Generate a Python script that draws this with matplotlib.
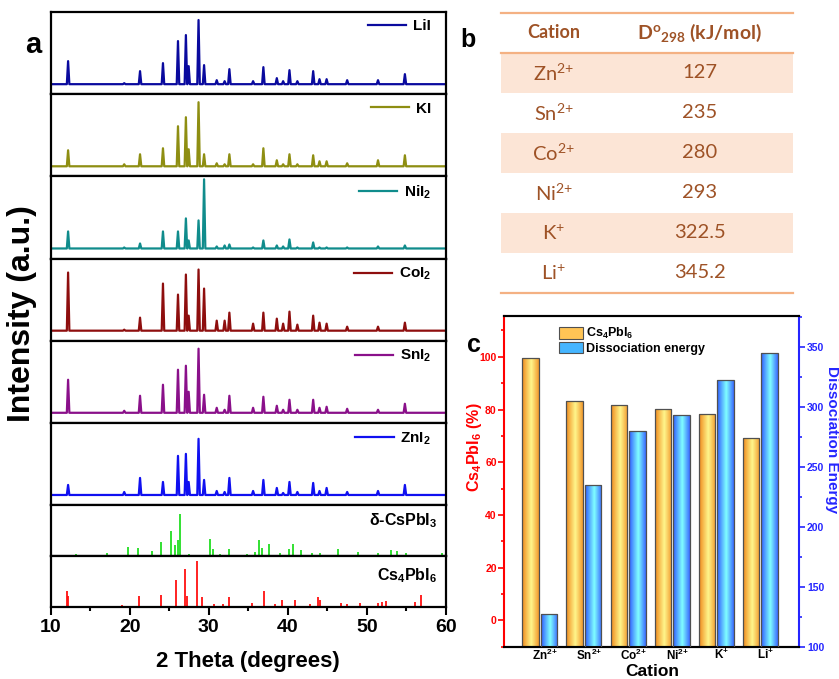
import numpy as np
import matplotlib
matplotlib.use("Agg")
import matplotlib.pyplot as plt
from matplotlib.colors import LinearSegmentedColormap
from matplotlib.patches import Patch
from matplotlib.ticker import MultipleLocator

plt.rcParams["font.family"] = ["Liberation Sans", "DejaVu Sans"]
plt.rcParams["font.weight"] = "bold"
plt.rcParams["axes.labelweight"] = "bold"
plt.rcParams["mathtext.default"] = "regular"

# ------------------------------------------------------------------ data
# (a) measured XRD patterns: common peak positions, per-sample peak heights
peak_pos = [12.2, 19.3, 21.3, 24.2, 26.1, 27.1, 27.45, 28.7, 29.4, 31.0, 32.0, 32.6,
            35.6, 36.9, 38.6, 39.4, 40.2, 41.2, 43.2, 44.0, 44.9, 47.5, 51.4, 54.8]
lii_int = [23, 1, 13, 21, 43, 49, 18, 64, 19, 4, 3, 15, 3, 17, 6, 3, 14, 3, 13, 5, 5, 4, 4, 10]
ki_int = [16, 2, 12, 18, 40, 49, 17, 64, 12, 3, 2, 12, 2, 18, 6, 2, 12, 2, 11, 5, 5, 3, 6, 11]
nii2_int = [17, 1, 5, 17, 17, 30, 8, 28, 69, 2, 3, 4, 1, 8, 3, 2, 9, 1, 6, 1, 1, 1, 2, 3]
coi2_int = [58, 1, 13, 47, 36, 56, 15, 61, 42, 10, 10, 18, 7, 18, 12, 7, 19, 6, 15, 8, 7, 4, 4, 8]
sni2_int = [33, 2, 17, 28, 43, 47, 21, 64, 18, 5, 3, 17, 5, 16, 7, 3, 13, 3, 13, 5, 6, 4, 3, 9]
zni2_int = [10, 3, 17, 13, 39, 41, 13, 56, 15, 4, 3, 17, 4, 15, 7, 2, 13, 3, 12, 4, 7, 3, 4, 10]
sample_labels = ["LiI", "KI", "NiI$_2$", "CoI$_2$", "SnI$_2$", "ZnI$_2$"]
sample_colors = ["#0A0A9E", "#8E8E12", "#108C8C", "#8E0E0E", "#8A108A", "#1010F0"]

# reference patterns (sticks)
delta_pos = [13.2, 17.1, 19.8, 21.1, 22.8, 24.0, 25.2, 25.7, 26.1, 26.4, 27.5, 30.2, 30.5,
             31.4, 32.5, 34.8, 35.9, 36.4, 36.7, 37.6, 39.0, 40.2, 40.6, 41.6, 43.0, 44.1,
             46.3, 48.9, 51.4, 53.1, 53.8, 55.0, 59.5]
delta_int = [2, 3, 9, 8, 5, 14, 25, 11, 16, 42, 2, 17, 7, 2, 7, 2, 4, 16, 8, 12, 3, 7, 12,
             6, 3, 3, 7, 4, 3, 6, 5, 3, 3]
cs4_pos = [12.0, 12.2, 19.05, 20.7, 21.15, 24.0, 25.9, 27.0, 27.3, 28.5, 29.2, 30.7, 31.8,
           32.5, 34.5, 35.5, 37.0, 38.4, 39.3, 40.9, 41.8, 42.8, 43.75, 44.1, 46.7, 47.5,
           49.1, 50.4, 51.4, 51.9, 52.4, 53.3, 56.1, 56.9, 58.2, 59.7]
cs4_int = [16, 11, 2, 1, 11, 12, 27, 38, 11, 46, 10, 3, 3, 10, 1, 4, 16, 3, 7, 7, 1, 3, 10,
           7, 4, 3, 4, 1, 4, 5, 6, 1, 5, 12, 1, 1]

# (b) table
table_cations = ["Zn$^{2{+}}$", "Sn$^{2{+}}$", "Co$^{2{+}}$", "Ni$^{2{+}}$", "K$^{+}$", "Li$^{+}$"]
table_d298 = ["127", "235", "280", "293", "322.5", "345.2"]

# (c) bars
cations = ["Zn$^{2{+}}$", "Sn$^{2{+}}$", "Co$^{2{+}}$", "Ni$^{2{+}}$", "K$^{+}$", "Li$^{+}$"]
cs4_percent = [99.6, 83.3, 81.7, 80.3, 78.4, 69.1]
diss_energy = [127, 235, 280, 293, 322.5, 345.2]

W, H = 839, 679
fig = plt.figure(figsize=(W / 100, H / 100), dpi=100)


def px_axes(x0, y0, x1, y1):
    return fig.add_axes([x0 / W, 1 - y1 / H, (x1 - x0) / W, (y1 - y0) / H])


def profile(pos, hts, hw=0.16):
    xs, ys = [10], [0]
    for p, h in zip(pos, hts):
        xs += [p - hw, p, p + hw]
        ys += [0, h, 0]
    xs.append(60)
    ys.append(0)
    return xs, ys


# ------------------------------------------------------------------ panel a
AX0, AX1 = 50.7, 446
edges = [12, 94.2, 176.3, 258.5, 340.7, 422.8, 505, 556, 607]
all_int = [lii_int, ki_int, nii2_int, coi2_int, sni2_int, zni2_int]
axes_a = []
for i in range(8):
    ax = px_axes(AX0, edges[i], AX1, edges[i + 1])
    ax.set_xlim(10, 60)
    for s in ax.spines.values():
        s.set_linewidth(1.6)
    ax.tick_params(left=False, labelleft=False, bottom=False, labelbottom=False)
    axes_a.append(ax)

for ax, ints, lab, col in zip(axes_a[:6], all_int, sample_labels, sample_colors):
    xs, ys = profile(peak_pos, ints)
    ax.plot(xs, ys, color=col, lw=1.6, label=lab)
    ax.set_ylim(-10, 72)
    ax.legend(loc="upper right", bbox_to_anchor=(0.962, 0.91), frameon=False,
              fontsize=11, handlelength=2.5, handletextpad=0.45, borderaxespad=0,
              borderpad=0)

axd, axcs = axes_a[6], axes_a[7]
axd.vlines(delta_pos, 0, delta_int, color="#22DD22", lw=1.3)
axd.set_ylim(0, 51)
axd.text(0.977, 0.69, "δ-CsPbI$_3$", transform=axd.transAxes, ha="right",
         va="center", fontsize=11.5)
axcs.vlines(cs4_pos, 0, cs4_int, color="#FF1010", lw=1.3)
axcs.set_ylim(0, 51)
axcs.text(0.977, 0.61, "Cs$_4$PbI$_6$", transform=axcs.transAxes, ha="right",
          va="center", fontsize=11.5)
axcs.set_xticks(range(10, 61, 10))
axcs.xaxis.set_minor_locator(MultipleLocator(5))
axcs.tick_params(axis="x", which="both", bottom=True, labelbottom=True,
                 direction="out", labelsize=14, width=1.5)
axcs.tick_params(axis="x", which="major", length=6, pad=3)
axcs.tick_params(axis="x", which="minor", length=3)

fig.text((AX0 + AX1) / 2 / W, 1 - 662 / H, "2 Theta (degrees)", ha="center",
         va="center", fontsize=16)
fig.text(22 / W, 1 - 314 / H, "Intensity (a.u.)", ha="center", va="center",
         rotation=90, fontsize=23)
fig.text(33 / W, 1 - 45 / H, "a", ha="center", va="center", fontsize=21)

# ------------------------------------------------------------------ panel b
TXT = "#9E5226"
LINE = "#F4B183"
SHADE = "#FCE5D6"
axb = px_axes(501, 13, 793, 293)
axb.set_xlim(0, 1)
axb.set_ylim(7, 0)
axb.axis("off")
for r in (1, 3, 5):
    axb.axhspan(r, r + 1, color=SHADE, lw=0)
for yl in (0, 1, 7):
    axb.axhline(yl, color=LINE, lw=1.6, clip_on=False)
axb.text(0.18, 0.5, "Cation", ha="center", va="center", color=TXT, family="Lato",
         weight="bold", fontsize=13)
axb.text(0.68, 0.5, r"D$^{o}{}_{298}$ (kJ/mol)", ha="center", va="center", color=TXT,
         family="Lato", weight="bold", fontsize=14)
for i, (c, d) in enumerate(zip(table_cations, table_d298)):
    axb.text(0.18, i + 1.5, c, ha="center", va="center", color=TXT, family="Lato",
             weight="normal", fontsize=14.5)
    axb.text(0.68, i + 1.5, d, ha="center", va="center", color=TXT, family="Lato",
             weight="normal", fontsize=14.5)
fig.text(468 / W, 1 - 40 / H, "b", ha="center", va="center", fontsize=18)

# ------------------------------------------------------------------ panel c
RED, BLUE = "#FF0000", "#2525FF"
axc = px_axes(504.3, 315.7, 799.3, 646.7)
ax2 = axc.twinx()

orange_map = LinearSegmentedColormap.from_list(
    "org", [(0, "#F08A1C"), (0.55, "#FFF68C"), (1, "#F29A2E")])
blue_map = LinearSegmentedColormap.from_list(
    "blu", [(0, "#2F5CFF"), (0.55, "#80FFFF"), (1, "#3A6BFF")])
grad = np.linspace(0, 1, 64).reshape(1, -1)


def grad_bar(ax, xc, top, base, w, cmap):
    bar = ax.bar(xc, top - base, w, bottom=base, color="none", edgecolor="#505050",
                 lw=0.9, zorder=3)[0]
    img = ax.imshow(grad, cmap=cmap, extent=[xc - w / 2, xc + w / 2, base, top],
                    aspect="auto", zorder=2)
    img.set_clip_path(bar)


xpos = np.arange(1, len(cations) + 1)
BW, OFF = 0.375, 0.21
for xi, v, e in zip(xpos, cs4_percent, diss_energy):
    grad_bar(axc, xi - OFF, v, -10, BW, orange_map)
    grad_bar(ax2, xi + OFF, e, 100, BW, blue_map)

axc.set_xlim(0.19, 6.89)
axc.set_ylim(-10, 115.6)
ax2.set_ylim(100, 376)
axc.set_xticks(xpos + 0.12)
axc.set_xticklabels(cations)
axc.tick_params(axis="x", length=0, pad=0.5, labelsize=8.5)

axc.set_yticks(range(0, 101, 20))
axc.yaxis.set_minor_locator(MultipleLocator(10))
axc.tick_params(axis="y", which="both", direction="out", color=RED, labelcolor=RED,
                labelsize=7.5, width=1.2, pad=1.5)
axc.tick_params(axis="y", which="major", length=4)
axc.tick_params(axis="y", which="minor", length=2.5)
ax2.set_yticks(range(100, 351, 50))
ax2.yaxis.set_minor_locator(MultipleLocator(25))
ax2.tick_params(axis="y", which="both", direction="out", color=BLUE, labelcolor=BLUE,
                labelsize=7.5, width=1.2, pad=1.5)
ax2.tick_params(axis="y", which="major", length=4)
ax2.tick_params(axis="y", which="minor", length=2.5)

for a in (axc, ax2):
    for s in a.spines.values():
        s.set_linewidth(1.5)
axc.spines["left"].set_color(RED)
axc.spines["right"].set_visible(False)
ax2.spines["left"].set_visible(False)
ax2.spines["right"].set_color(BLUE)

axc.legend(handles=[Patch(facecolor="#FFC455", edgecolor="#505050", lw=0.8),
                    Patch(facecolor="#45B5FF", edgecolor="#505050", lw=0.8)],
           labels=["Cs$_4$PbI$_6$", "Dissociation energy"], loc="upper left",
           bbox_to_anchor=(0.185, 0.968), frameon=False, fontsize=9, handlelength=1.9,
           handleheight=1.0, labelspacing=0.05, handletextpad=0.3, borderpad=0,
           borderaxespad=0)

fig.text(475 / W, 1 - 447 / H, "Cs$_4$PbI$_6$ (%)", ha="center", va="center",
         rotation=90, color=RED, fontsize=11.5)
fig.text(832 / W, 1 - 440 / H, "Dissociation Energy", ha="center", va="center",
         rotation=270, color=BLUE, fontsize=11)
fig.text(652 / W, 1 - 672 / H, "Cation", ha="center", va="center", fontsize=12.5)
fig.text(474 / W, 1 - 345 / H, "c", ha="center", va="center", fontsize=18)

fig.savefig("out.png", dpi=100)
